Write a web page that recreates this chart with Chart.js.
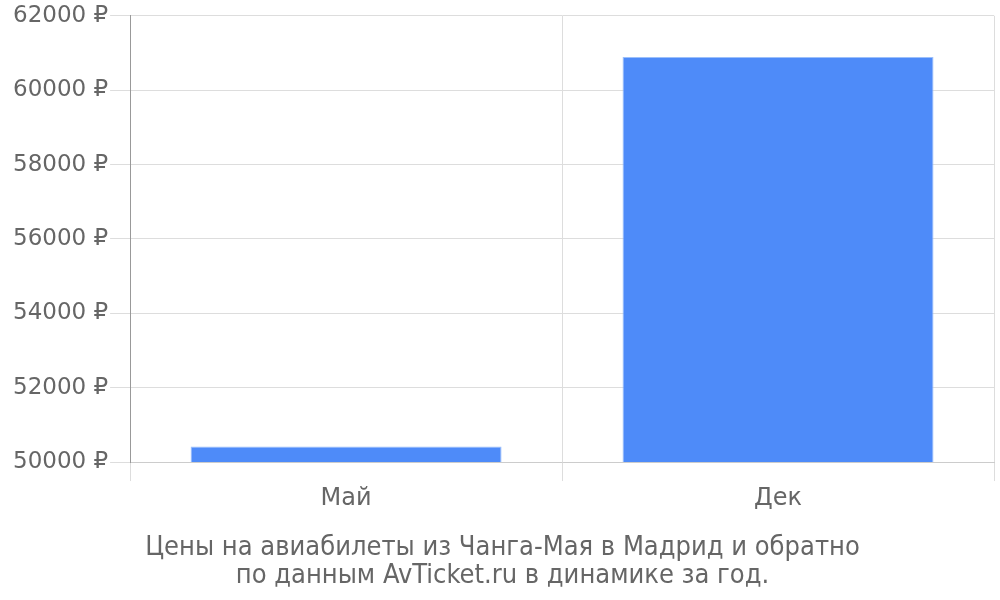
<!DOCTYPE html>
<html>
<head>
<meta charset="utf-8">
<script src="https://cdn.jsdelivr.net/npm/chart.js@4/dist/chart.umd.min.js"></script>
<style>
    body { margin: 0; background: #fff; }
    #box { width: 1000px; height: 600px; }
</style>
</head>
<body>
<div id="box"><canvas id="mine" width="1000" height="600"></canvas></div>
<script>
    const months = ["Май", "Дек"];
    const prices = [50420, 60890];
    const titleLines = [
        "Цены на авиабилеты из Чанга-Мая в Мадрид и обратно",
        "по данным AvTicket.ru в динамике за год."
    ];

    Chart.defaults.font.family = "'DejaVu Sans', sans-serif";
    Chart.defaults.color = "#666";

    let ctx = document.getElementById("mine").getContext("2d");
    let myChart = new Chart(ctx, {
        type: "bar",
        data: {
            labels: months,
            datasets: [{
                data: prices,
                backgroundColor: "#4e8bf9",
                borderColor: "#9cc0fb",
                borderWidth: 1
            }]
        },
        options: {
            responsive: false,
            animation: false,
            layout: { padding: { left: 11, right: 6, top: 4, bottom: 10 } },
            plugins: {
                legend: { display: false },
                tooltip: { enabled: false },
                title: {
                    display: true,
                    position: "bottom",
                    text: titleLines,
                    color: "#666",
                    font: { family: "'DejaVu Sans Condensed', 'DejaVu Sans', sans-serif", size: 27, weight: "normal", lineHeight: 1.04 },
                    padding: { top: 18, bottom: 0 }
                }
            },
            scales: {
                x: {
                    grid: { color: "#ddd", tickLength: 19 },
                    border: { color: "#ccc" },
                    ticks: { font: { size: 24 }, color: "#666", padding: 3 }
                },
                y: {
                    min: 50000,
                    max: 62000,
                    grid: { color: "#ddd", tickLength: 20 },
                    border: { color: "#999" },
                    ticks: {
                        stepSize: 2000,
                        font: { size: 23 },
                        color: "#666",
                        padding: 2,
                        callback: v => v + " ₽"
                    }
                }
            }
        }
    });
</script>
</body>
</html>
